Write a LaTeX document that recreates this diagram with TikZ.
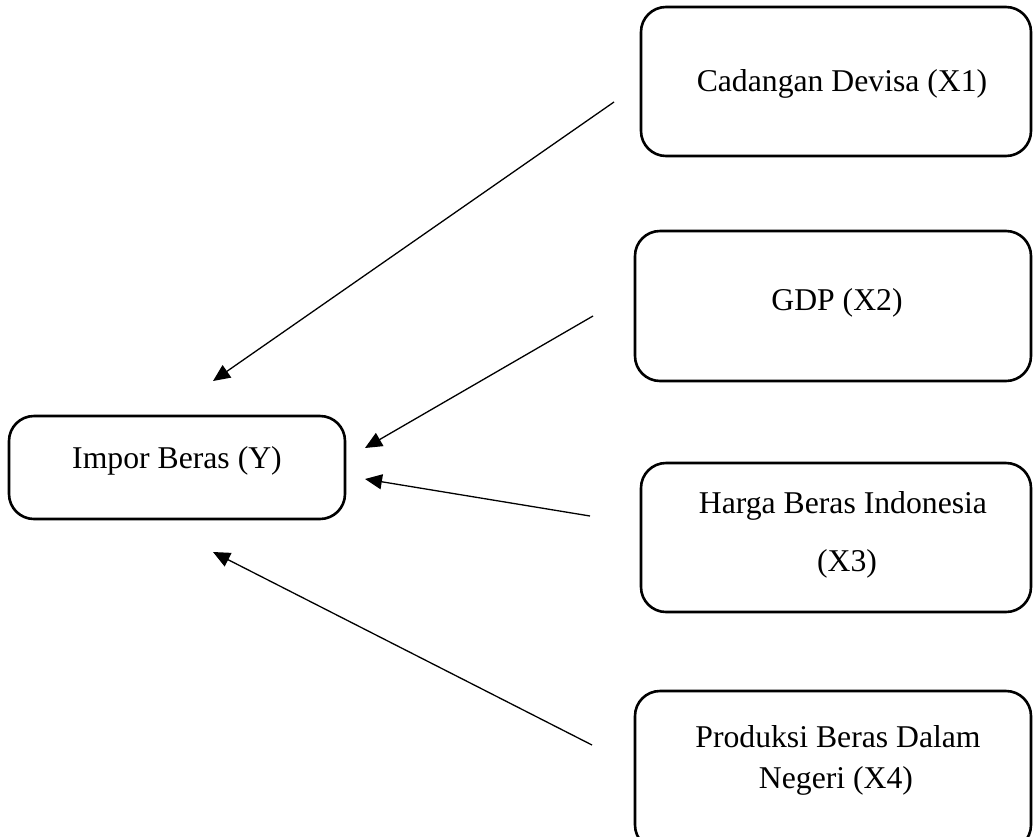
\documentclass[tikz,border=0pt]{standalone}
\usepackage{fontspec}
\setmainfont{Liberation Serif}
\usetikzlibrary{arrows.meta}
\begin{document}
\begin{tikzpicture}[x=1pt,y=-1pt,
  box/.style={draw, line width=2.6pt, rounded corners=25pt},
  lbl/.style={inner sep=0pt, anchor=base, font=\fontsize{31.7}{38}\selectfont},
  conn/.style={line width=1.3pt, -{Triangle[length=17pt,width=15pt]}}]
\clip (0,0) rectangle (1033,836);
\useasboundingbox (0,0) rectangle (1033,836);
% boxes
\draw[box] (641,7) rectangle (1031,156);
\draw[box] (635,231) rectangle (1031,381);
\draw[box] (641,463) rectangle (1031,612);
\draw[box] (635,691) rectangle (1031,850);
\draw[box] (9,416) rectangle (345,519);
% texts
\node[lbl] (x1) at (842,91) {Cadangan Devisa (X1)};
\node[lbl] (x2) at (837,310) {GDP (X2)};
\node[lbl] (x3a) at (843,513) {Harga Beras Indonesia};
\node[lbl] (x3b) at (847,571) {(X3)};
\node[lbl] (x4a) at (838,747) {Produksi Beras Dalam};
\node[lbl] (x4b) at (836,788) {Negeri (X4)};
\node[lbl] (y) at (177,468) {Impor Beras (Y)};
% connector ends
\coordinate (s1) at (614,102);
\coordinate (s2) at (593,316);
\coordinate (s3) at (590,516);
\coordinate (s4) at (592,745);
\coordinate (t1) at (213,381);
\coordinate (t2) at (365,448);
\coordinate (t3) at (365,479);
\coordinate (t4) at (213,552);
\draw[conn] (s1) -- (t1);
\draw[conn] (s2) -- (t2);
\draw[conn] (s3) -- (t3);
\draw[conn] (s4) -- (t4);
\end{tikzpicture}
\end{document}
